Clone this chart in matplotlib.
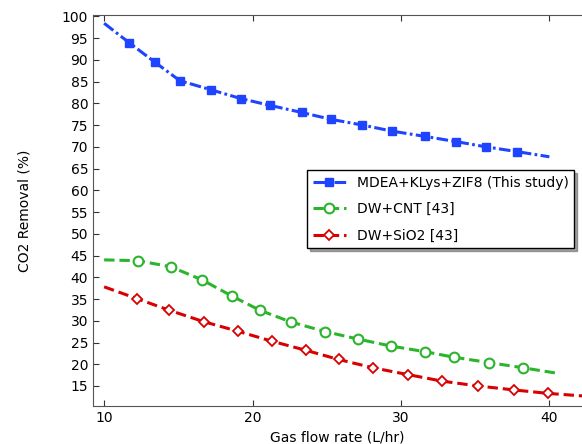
import matplotlib
matplotlib.use("Agg")
import matplotlib.pyplot as plt
import numpy as np

# gas flow rate (L/hr) and CO2 removal (%)
x_zif = [10.0, 11.7, 13.4, 15.1, 17.2, 19.2, 21.2, 23.3, 25.3, 27.4, 29.4, 31.6, 33.7, 35.7, 37.8, 40.0]
y_zif = [98.4, 93.9, 89.5, 85.2, 83.1, 81.1, 79.5, 77.9, 76.3, 75.0, 73.6, 72.4, 71.2, 70.0, 68.9, 67.7]

x_cnt = [10.0, 12.3, 14.5, 16.6, 18.6, 20.5, 22.6, 24.9, 27.1, 29.3, 31.6, 33.6, 35.9, 38.2, 40.4]
y_cnt = [44.0, 43.8, 42.4, 39.4, 35.7, 32.4, 29.7, 27.5, 25.8, 24.2, 22.9, 21.6, 20.4, 19.2, 18.0]

x_sio2 = [10.0, 12.2, 14.4, 16.7, 19.0, 21.3, 23.6, 25.8, 28.1, 30.5, 32.8, 35.2, 37.6, 39.9, 42.3]
y_sio2 = [37.8, 35.1, 32.4, 29.8, 27.6, 25.3, 23.2, 21.1, 19.2, 17.6, 16.1, 15.0, 14.1, 13.3, 12.7]

labels = ["MDEA+KLys+ZIF8 (This study)", "DW+CNT [43]", "DW+SiO2 [43]"]

fig = plt.figure(figsize=(5.82, 4.44), dpi=100)
ax = fig.add_axes([93 / 582, 1 - 406 / 444, 1 - 93 / 582, (406 - 15) / 444])

ax.plot(x_zif, y_zif, color="#1f44ff", lw=2.2, ls=(0, (3.8, 1.1, 0.9, 1.1)),
        marker="s", ms=5.5, markevery=range(1, len(x_zif) - 1), label=labels[0])
ax.plot(x_cnt, y_cnt, color="#2cb52c", lw=2.2, ls=(0, (3.4, 1.6)),
        marker="o", ms=7, mfc="white", mew=1.5, markevery=range(1, len(x_cnt) - 1), label=labels[1])
ax.plot(x_sio2, y_sio2, color="#d80000", lw=2.2, ls=(0, (3.4, 1.6)),
        marker="D", ms=5.5, mfc="white", mew=1.3, markevery=range(1, len(x_sio2) - 1), label=labels[2])

ax.set_xlim(9.25, 42.2)
ax.set_ylim(10.4, 100.3)
ax.set_xticks([10, 20, 30, 40])
ax.set_yticks(np.arange(15, 101, 5))
ax.tick_params(direction="in", labelsize=10, top=True, length=4, color="#333333")
ax.spines["right"].set_visible(False)
for s in ["left", "bottom", "top"]:
    ax.spines[s].set_color("#555555")

ax.set_xlabel("Gas flow rate (L/hr)", fontsize=10, labelpad=4)
ax.set_ylabel("CO2 Removal (%)", fontsize=10, labelpad=22)

leg = ax.legend(loc="upper left", bbox_to_anchor=(307 / 582, 1 - 170 / 444),
                bbox_transform=fig.transFigure, fancybox=False, shadow=True,
                framealpha=1, edgecolor="black", fontsize=10, borderaxespad=0,
                handlelength=2.4, labelspacing=0.9)
leg.get_frame().set_linewidth(1.0)

fig.savefig("out.png", dpi=100)
